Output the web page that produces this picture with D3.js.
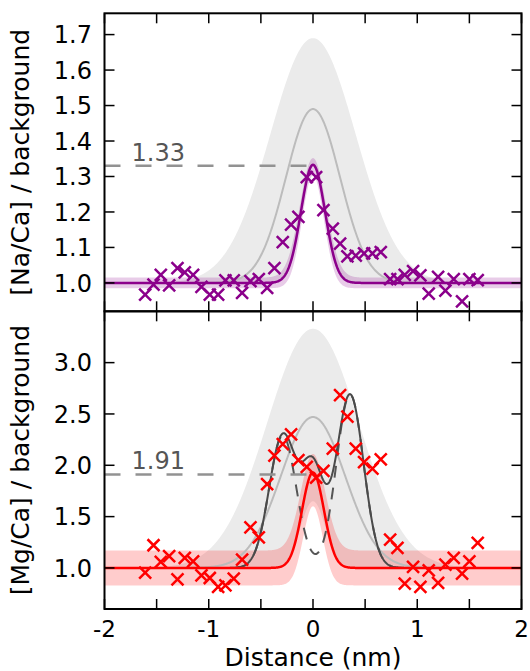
<!DOCTYPE html>
<html>
<head>
<meta charset="utf-8">
<script src="https://cdn.jsdelivr.net/npm/d3@7"></script>
<style>
  body { margin: 0; background: #fff; }
  text { font-family: "DejaVu Sans", sans-serif; }
</style>
</head>
<body>
<svg id="chart" width="530" height="671"></svg>
<script>
// measured line-scan positions (nm), same for both panels
var distance = [-1.61, -1.53, -1.46, -1.38, -1.30, -1.23, -1.15, -1.07, -0.99, -0.91,
  -0.84, -0.76, -0.68, -0.60, -0.52, -0.44, -0.37, -0.29, -0.21, -0.14,
  -0.06, 0.03, 0.10, 0.19, 0.26, 0.33, 0.41, 0.49, 0.57, 0.65,
  0.74, 0.81, 0.88, 0.96, 1.03, 1.11, 1.20, 1.27, 1.35, 1.43, 1.50, 1.58];

var naRatio = [0.967, 0.995, 1.023, 0.993, 1.042, 1.030, 1.023, 0.989, 0.967, 0.967,
  1.007, 1.007, 0.972, 1.005, 1.011, 0.986, 1.042, 1.115, 1.164, 1.186,
  1.298, 1.298, 1.205, 1.153, 1.111, 1.075, 1.077, 1.083, 1.083, 1.087,
  1.011, 1.011, 1.023, 1.033, 1.021, 0.970, 1.017, 0.978, 1.011, 0.948, 1.011, 1.008];

var mgRatio = [0.954, 1.221, 1.059, 1.114, 0.889, 1.098, 1.065, 0.928, 0.902, 0.815,
  0.831, 0.896, 1.081, 1.395, 1.298, 1.817, 2.095, 2.207, 2.300, 2.050,
  1.985, 1.880, 1.945, 2.163, 2.683, 2.473, 2.163, 2.030, 1.968, 2.057,
  1.276, 1.195, 0.847, 1.010, 0.815, 0.977, 0.854, 1.033, 1.098, 0.945, 1.065, 1.244];

// fitted peak: [amplitude above background, sigma (nm)]
var naFit = [0.333, 0.115];
var naFitLo = [-0.015, 0.318, 0.105];   // [background offset, amplitude, sigma]
var naFitHi = [0.015, 0.337, 0.125];
var naModel = [0.49, 0.26];
var naModelLo = [0.33, 0.11];
var naModelHi = [0.69, 0.41];

var mgFit = [0.93, 0.105];
var mgFitLo = [-0.17, 0.77, 0.094];
var mgFitHi = [0.17, 0.94, 0.118];
var mgModel = [1.47, 0.31];
var mgModelLo = [0.65, 0.12];
var mgModelHi = [2.33, 0.44];
// two enriched layers: [amplitude, centre (nm), sigma]
var mgLayers = [[1.29, -0.29, 0.13], [1.69, 0.355, 0.13]];

var naMax = 1.33;
var mgMax = 1.91;

var xTicks = [-2, -1.5, -1, -0.5, 0, 0.5, 1, 1.5, 2];
var xLabels = [-2, -1, 0, 1, 2];
var naTicks = [1.0, 1.1, 1.2, 1.3, 1.4, 1.5, 1.6, 1.7];
var mgTicks = [1.0, 1.5, 2.0, 2.5, 3.0];

var svg = d3.select('#chart');
var left = 104.5, right = 521.5;
var x = d3.scaleLinear().domain([-2, 2]).range([left, right]);

var grid = d3.range(-2, 2.0001, 0.005);

function gauss(v, amp, mu, s) {
  return amp * Math.exp(-(v - mu) * (v - mu) / (2 * s * s));
}

function cross(g, xs, ys, y, color) {
  g.selectAll('.pt')
    .data(xs)
    .enter().append('path')
    .attr('d', 'M-6,-6L6,6M-6,6L6,-6')
    .attr('transform', function (d, i) { return 'translate(' + x(d) + ',' + y(ys[i]) + ')'; })
    .attr('stroke', color)
    .attr('stroke-width', 2.5)
    .attr('fill', 'none');
}

function panel(id, top, bottom, domain, yTicks, yTitle) {
  var y = d3.scaleLinear().domain(domain).range([bottom, top]);

  svg.append('clipPath').attr('id', id)
    .append('rect')
    .attr('x', left).attr('y', top)
    .attr('width', right - left).attr('height', bottom - top);

  var g = svg.append('g').attr('clip-path', 'url(#' + id + ')');
  return { y: y, g: g, top: top, bottom: bottom, ticks: yTicks, title: yTitle };
}

function frame(p) {
  var y = p.y;
  var ax = svg.append('g');
  ax.append('rect')
    .attr('x', left).attr('y', p.top)
    .attr('width', right - left).attr('height', p.bottom - p.top)
    .attr('fill', 'none').attr('stroke', '#000').attr('stroke-width', 2);

  // ticks point inward on all four sides
  xTicks.forEach(function (t) {
    ax.append('line').attr('x1', x(t)).attr('x2', x(t))
      .attr('y1', p.top).attr('y2', p.top + 10)
      .attr('stroke', '#000').attr('stroke-width', 1.5);
    ax.append('line').attr('x1', x(t)).attr('x2', x(t))
      .attr('y1', p.bottom).attr('y2', p.bottom - 10)
      .attr('stroke', '#000').attr('stroke-width', 1.5);
  });
  p.ticks.forEach(function (t) {
    ax.append('line').attr('x1', left).attr('x2', left + 10)
      .attr('y1', y(t)).attr('y2', y(t))
      .attr('stroke', '#000').attr('stroke-width', 1.5);
    ax.append('line').attr('x1', right).attr('x2', right - 10)
      .attr('y1', y(t)).attr('y2', y(t))
      .attr('stroke', '#000').attr('stroke-width', 1.5);
    ax.append('text')
      .attr('x', 92).attr('y', y(t) + 8.7)
      .attr('text-anchor', 'end')
      .attr('font-size', 24)
      .text(d3.format('.1f')(t));
  });

  ax.append('text')
    .attr('transform', 'translate(29,' + ((p.top + p.bottom) / 2) + ') rotate(-90)')
    .attr('text-anchor', 'middle')
    .attr('font-size', 25)
    .text(p.title);
}

function band(g, y, lo, hi, color) {
  g.append('path')
    .datum(grid)
    .attr('d', d3.area().x(function (d) { return x(d); }).y0(function (d) { return y(lo(d)); }).y1(function (d) { return y(hi(d)); }))
    .attr('fill', color).attr('stroke', 'none');
}

function curve(g, y, f, color, width, dash) {
  g.append('path')
    .datum(grid)
    .attr('d', d3.line().x(function (d) { return x(d); }).y(function (d) { return y(f(d)); }))
    .attr('fill', 'none').attr('stroke', color).attr('stroke-width', width)
    .attr('stroke-dasharray', dash || null);
}

function maxLine(p, value, labelY) {
  p.g.append('line')
    .attr('x1', x(-2)).attr('x2', x(0))
    .attr('y1', p.y(value)).attr('y2', p.y(value))
    .attr('stroke', '#929292').attr('stroke-width', 2.5)
    .attr('stroke-dasharray', '16,15');
  p.g.append('text')
    .attr('x', x(-1.74)).attr('y', p.y(labelY))
    .attr('font-size', 24).attr('fill', '#555')
    .text(value.toFixed(2));
}

// ---- top panel: Na ----
var na = panel('clipNa', 13.3, 311.3, [0.92, 1.76], naTicks, '[Na/Ca] / background');
band(na.g, na.y,
  function (d) { return 1 + gauss(d, naModelLo[0], 0, naModelLo[1]); },
  function (d) { return 1 + gauss(d, naModelHi[0], 0, naModelHi[1]); }, '#ebebeb');
band(na.g, na.y,
  function (d) { return 1 + naFitLo[0] + gauss(d, naFitLo[1], 0, naFitLo[2]); },
  function (d) { return 1 + naFitHi[0] + gauss(d, naFitHi[1], 0, naFitHi[2]); }, 'rgba(139,0,139,0.2)');
curve(na.g, na.y, function (d) { return 1 + gauss(d, naModel[0], 0, naModel[1]); }, '#bcbcbc', 2);
curve(na.g, na.y, function (d) { return 1 + gauss(d, naFit[0], 0, naFit[1]); }, '#8b008b', 2.5);
maxLine(na, naMax, 1.345);
cross(na.g, distance, naRatio, na.y, '#8b008b');

// ---- bottom panel: Mg ----
var mg = panel('clipMg', 311.3, 609, [0.6, 3.5], mgTicks, '[Mg/Ca] / background');
band(mg.g, mg.y,
  function (d) { return 1 + gauss(d, mgModelLo[0], 0, mgModelLo[1]); },
  function (d) { return 1 + gauss(d, mgModelHi[0], 0, mgModelHi[1]); }, '#ebebeb');
band(mg.g, mg.y,
  function (d) { return 1 + mgFitLo[0] + gauss(d, mgFitLo[1], 0, mgFitLo[2]); },
  function (d) { return 1 + mgFitHi[0] + gauss(d, mgFitHi[1], 0, mgFitHi[2]); }, 'rgba(255,0,0,0.2)');
curve(mg.g, mg.y, function (d) { return 1 + gauss(d, mgModel[0], 0, mgModel[1]); }, '#bcbcbc', 2);

function layers(d) {
  return 1 + gauss(d, mgLayers[0][0], mgLayers[0][1], mgLayers[0][2]) +
    gauss(d, mgLayers[1][0], mgLayers[1][1], mgLayers[1][2]);
}
curve(mg.g, mg.y, layers, '#555', 2, '12,10');
curve(mg.g, mg.y, function (d) { return layers(d) + gauss(d, mgFit[0], 0, mgFit[1]); }, '#4a4a4a', 2);
curve(mg.g, mg.y, function (d) { return 1 + gauss(d, mgFit[0], 0, mgFit[1]); }, '#ff0000', 2.5);
maxLine(mg, mgMax, 1.96);
cross(mg.g, distance, mgRatio, mg.y, '#ff0000');

frame(na);
frame(mg);

// x labels only on the bottom panel
xLabels.forEach(function (t) {
  svg.append('text')
    .attr('x', x(t)).attr('y', 637)
    .attr('text-anchor', 'middle')
    .attr('font-size', 23)
    .text(t);
});
svg.append('text')
  .attr('x', x(0)).attr('y', 666)
  .attr('text-anchor', 'middle')
  .attr('font-size', 25)
  .text('Distance (nm)');
</script>
</body>
</html>
